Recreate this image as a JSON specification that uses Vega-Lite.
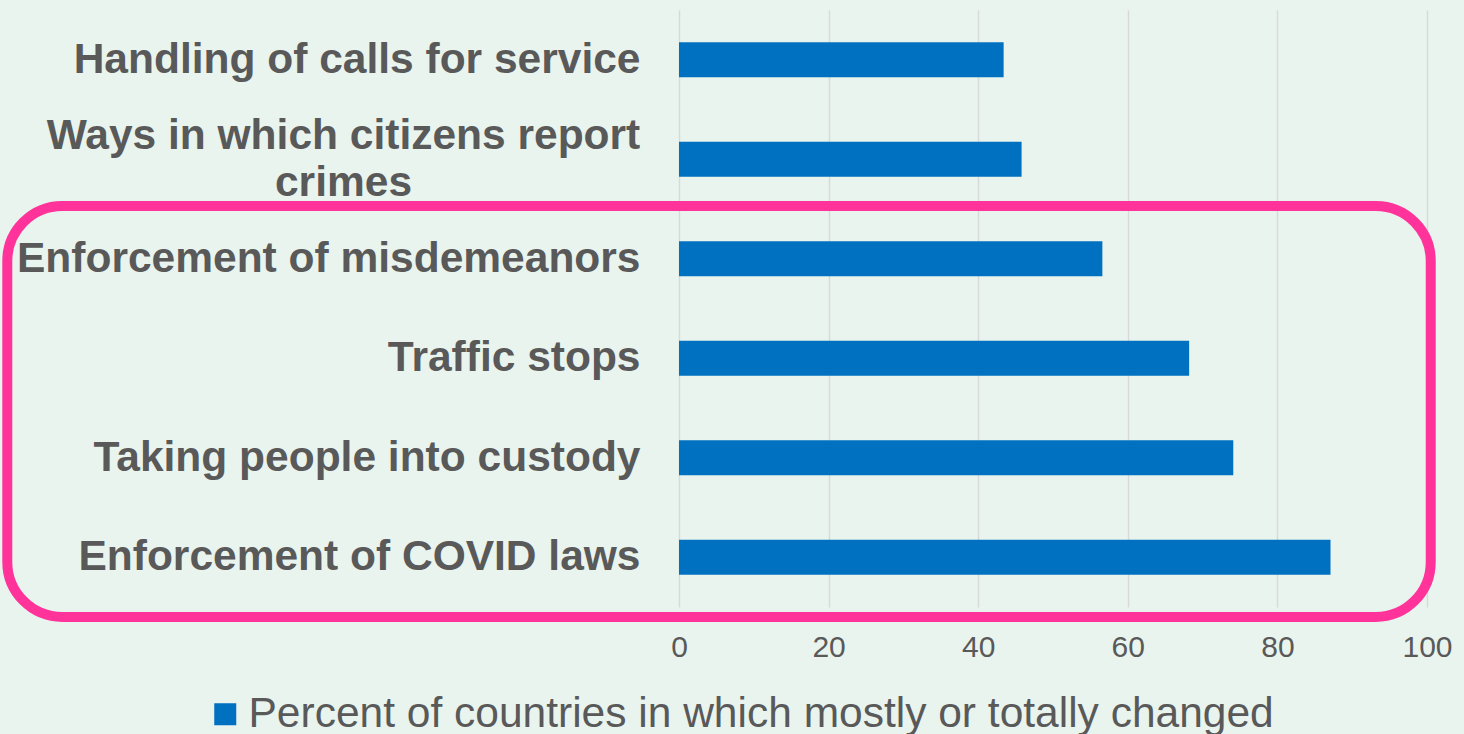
{
  "$schema": "https://vega.github.io/schema/vega-lite/v6.json",
  "width": 748,
  "height": 597,
  "autosize": {"type": "none"},
  "padding": {"left": 679, "top": 10, "right": 37, "bottom": 127},
  "background": "#e9f4ee",
  "config": {"view": {"stroke": null}, "font": "Liberation Sans"},
  "layer": [
    {
      "data": {
        "values": [
          {"category": "Handling of calls for service", "percent": 43.4, "series": "Percent of countries in which mostly or totally changed"},
          {"category": "Ways in which citizens report crimes", "percent": 45.8, "series": "Percent of countries in which mostly or totally changed"},
          {"category": "Enforcement of misdemeanors", "percent": 56.6, "series": "Percent of countries in which mostly or totally changed"},
          {"category": "Traffic stops", "percent": 68.2, "series": "Percent of countries in which mostly or totally changed"},
          {"category": "Taking people into custody", "percent": 74.1, "series": "Percent of countries in which mostly or totally changed"},
          {"category": "Enforcement of COVID laws", "percent": 87.1, "series": "Percent of countries in which mostly or totally changed"}
        ]
      },
      "mark": {"type": "bar"},
      "encoding": {
        "y": {
          "field": "category",
          "type": "nominal",
          "sort": null,
          "scale": {"paddingInner": 0.648, "paddingOuter": 0.324},
          "axis": {
            "title": null,
            "domain": false,
            "ticks": false,
            "grid": false,
            "labelFont": "Liberation Sans",
            "labelFontSize": 42.5,
            "labelFontWeight": "bold",
            "labelColor": "#595959",
            "labelLimit": 900,
            "labelLineHeight": 47,
            "labelExpr": "datum.value == 'Ways in which citizens report crimes' ? ['Ways in which citizens report', 'crimes'] : datum.value",
            "labelAlign": {"condition": {"test": "datum.value == 'Ways in which citizens report crimes'", "value": "center"}, "value": "right"},
            "labelPadding": {"condition": {"test": "datum.value == 'Ways in which citizens report crimes'", "value": 336}, "value": 39},
            "labelOffset": {"condition": {"test": "datum.value == 'Ways in which citizens report crimes'", "value": -23}, "value": 0}
          }
        },
        "x": {
          "field": "percent",
          "type": "quantitative",
          "scale": {"domain": [0, 100], "nice": false},
          "axis": {
            "title": null,
            "domain": false,
            "ticks": false,
            "grid": true,
            "gridColor": "#d9d9d9",
            "gridWidth": 1.5,
            "values": [0, 20, 40, 60, 80, 100],
            "labelFont": "Liberation Sans",
            "labelFontSize": 30,
            "labelColor": "#595959",
            "labelPadding": 25,
            "labelFlush": false
          }
        },
        "color": {
          "field": "series",
          "type": "nominal",
          "scale": {"range": ["#0070C0"]},
          "legend": {
            "orient": "none",
            "legendX": -475,
            "legendY": 683,
            "title": null,
            "padding": 0,
            "symbolType": "square",
            "symbolSize": 484,
            "symbolStrokeWidth": 0,
            "labelFont": "Liberation Sans",
            "labelFontSize": 42.5,
            "labelColor": "#595959",
            "labelOffset": 2,
            "labelLimit": 1200
          }
        }
      }
    },
    {
      "data": {"values": [{}]},
      "mark": {"type": "rect", "filled": false, "stroke": "#ff3399", "strokeWidth": 10, "cornerRadius": 55},
      "encoding": {
        "x": {"datum": -89.8, "type": "quantitative", "scale": {"domain": [0, 100], "nice": false}},
        "x2": {"datum": 100.5},
        "y": {"datum": -0.1, "type": "quantitative", "scale": {"domain": [0, 6], "nice": false, "zero": false}, "axis": null},
        "y2": {"datum": 4.03}
      }
    }
  ],
  "resolve": {"scale": {"y": "independent"}}
}
